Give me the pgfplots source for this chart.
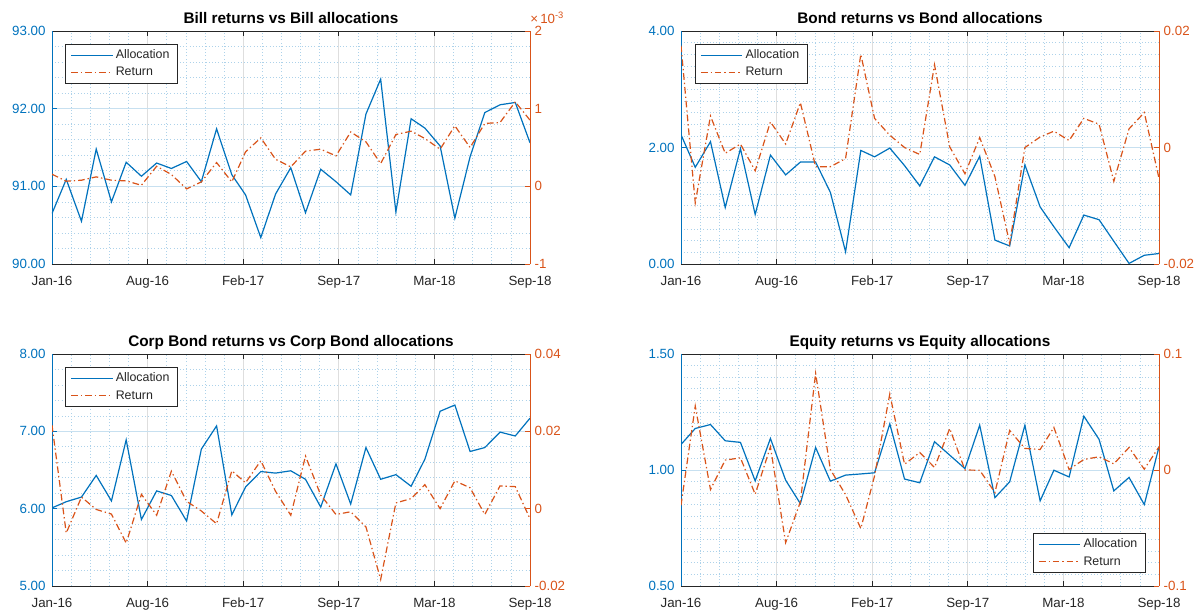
\documentclass[border=0pt]{standalone}
\usepackage{pgfplots}
\usepackage{pgfplotstable}
\pgfplotsset{compat=1.18}
\usepackage{fontspec}
\setmainfont{Liberation Sans}
\definecolor{mblue}{HTML}{0072BD}
\definecolor{morange}{HTML}{D95319}
\definecolor{mgray}{HTML}{262626}
\colorlet{gridblue}{mblue!22}
\colorlet{gridgray}{black!13}
\colorlet{minorgrid}{mblue!32}
\newcommand{\ticksize}{\fontsize{10}{12}\selectfont}
\newcommand{\legendsize}{\fontsize{9.3}{11}\selectfont}
\newcommand{\titlesize}{\fontsize{11.5}{13}\selectfont}

\pgfplotstableread{
d a r
0 90.65 0.000156
29 91.09 0.000066
60 90.55 0.000079
90 91.48 0.000122
121 90.80 0.000079
151 91.31 0.000070
182 91.13 0.000014
213 91.30 0.000259
243 91.23 0.000152
274 91.32 -0.000033
304 91.06 0.000057
335 91.74 0.000306
366 91.15 0.000057
394 90.89 0.000444
425 90.34 0.000624
455 90.90 0.000349
486 91.24 0.000250
516 90.66 0.000453
547 91.22 0.000478
578 91.06 0.000392
608 90.89 0.000700
639 91.93 0.000573
669 92.38 0.000293
700 90.67 0.000667
731 91.87 0.000710
759 91.75 0.000616
790 91.52 0.000478
820 90.59 0.000779
851 91.38 0.000500
881 91.95 0.000810
912 92.05 0.000822
943 92.08 0.001088
973 91.56 0.000852
}\billtab

\pgfplotstableread{
d a r
0 2.22 0.0175
29 1.66 -0.0095
60 2.10 0.0054
90 0.97 -0.0010
121 1.98 0.0006
151 0.85 -0.0040
182 1.87 0.0044
213 1.53 0.0006
243 1.75 0.0077
274 1.75 -0.0033
304 1.23 -0.0033
335 0.21 -0.0019
366 1.95 0.0160
394 1.84 0.0050
425 1.99 0.0021
455 1.69 0.0000
486 1.34 -0.0012
516 1.84 0.0142
547 1.70 0.0001
578 1.35 -0.0045
608 1.85 0.0017
639 0.41 -0.0050
669 0.31 -0.0165
700 1.70 0.0000
731 0.98 0.0018
759 0.64 0.0028
790 0.28 0.0012
820 0.84 0.0050
851 0.76 0.0040
881 0.39 -0.0058
912 0.01 0.0032
943 0.15 0.0060
973 0.18 -0.0053
}\bondtab

\pgfplotstableread{
d a r
0 6.01 0.0216
29 6.09 -0.0063
60 6.15 0.0030
90 6.43 -0.0002
121 6.10 -0.0014
151 6.89 -0.0089
182 5.86 0.0037
213 6.23 -0.0017
243 6.17 0.0097
274 5.84 0.0019
304 6.77 -0.0006
335 7.07 -0.0039
366 5.92 0.0098
394 6.28 0.0067
425 6.48 0.0124
455 6.46 0.0045
486 6.49 -0.0017
516 6.38 0.0136
547 6.02 0.0035
578 6.58 -0.0015
608 6.06 -0.0008
639 6.79 -0.0047
669 6.38 -0.0183
700 6.44 0.0015
731 6.29 0.0026
759 6.64 0.0062
790 7.26 0.0000
820 7.34 0.0072
851 6.74 0.0054
881 6.79 -0.0015
912 6.99 0.0059
943 6.94 0.0057
973 7.17 -0.0026
}\corptab

\pgfplotstableread{
d a r
0 1.110 -0.0304
29 1.179 0.0551
60 1.196 -0.0168
90 1.126 0.0085
121 1.119 0.0105
151 0.953 -0.0209
182 1.136 0.0200
213 0.956 -0.0626
243 0.855 -0.0275
274 1.097 0.0833
304 0.952 0.0004
335 0.978 -0.0212
366 0.983 -0.0505
394 0.988 -0.0050
425 1.199 0.0655
455 0.961 0.0050
486 0.945 0.0151
516 1.122 0.0022
547 1.064 0.0358
578 1.006 0.0000
608 1.193 -0.0002
639 0.881 -0.0194
669 0.949 0.0341
700 1.193 0.0186
731 0.867 0.0177
759 0.999 0.0367
790 0.970 0.0004
820 1.232 0.0091
851 1.132 0.0114
881 0.910 0.0053
912 0.968 0.0194
943 0.851 0.0007
973 1.100 0.0200
}\equitytab

\tikzset{
  allocline/.style={draw=mblue, line width=0.9pt},
  retline/.style={draw=morange, line width=0.9pt, dash pattern=on 5pt off 2.2pt on 1pt off 2.2pt},
}

\pgfplotsset{
  common/.style={
    scale only axis, width=358.5pt, xmin=0, xmax=973,
    tick align=inside, major tick length=3.75pt, minor tick length=0pt,
    scaled ticks=false, scaled y ticks=false,
  },
  leftax/.style={
    common,
    axis x line*=box, axis y line*=left,
    xtick={0,194.6,389.2,583.8,778.4,973},
    xticklabels={Jan-16,Aug-16,Feb-17,Sep-17,Mar-18,Sep-18},
    minor x tick num=4,
    x axis line style={mgray, line width=0.5pt},
    y axis line style={mblue, line width=0.5pt},
    x tick style={mgray, line width=0.5pt},
    y tick style={mblue, line width=0.5pt},
    xticklabel style={text=mgray, font=\ticksize, yshift=-5.7pt},
    yticklabel style={text=mblue, font=\ticksize, xshift=-1.3pt},
    grid=both,
    major x grid style={gridgray, line width=0.5pt},
    major y grid style={gridblue, line width=0.6pt},
    minor grid style={minorgrid, dotted, line width=0.5pt},
    title style={at={(0.5,1)}, anchor=base, yshift=-0.5pt, font=\bfseries\titlesize, text=black},
  },
  rightax/.style={
    common,
    axis x line=none, axis y line*=right,
    y axis line style={morange, line width=0.5pt},
    y tick style={morange, line width=0.5pt},
    yticklabel style={text=morange, font=\ticksize},
    clip mode=individual,
    legend cell align=left,
    legend image code/.code={\draw[##1] (0pt,0pt) -- (31pt,0pt);},
    legend style={draw=mgray, line width=0.5pt, fill=white, inner xsep=4pt, inner ysep=2pt,
      font=\legendsize, row sep=1pt, text=mgray},
  },
}

\begin{document}
\begin{tikzpicture}
\useasboundingbox (0,0) rectangle (901.5pt,459pt);

% ---------- Bill ----------
\begin{axis}[leftax, at={(39pt,261pt)}, anchor=south west, height=174.75pt,
  ymin=90, ymax=93, ytick={90,91,92,93}, yticklabels={90.00,91.00,92.00,93.00},
  minor y tick num=4, title={Bill returns vs Bill allocations}]
\addplot[allocline] table[x=d,y=a]{\billtab};
\end{axis}
\begin{axis}[rightax, at={(39pt,261pt)}, anchor=south west, height=174.75pt,
  ymin=-0.001, ymax=0.002, ytick={-0.001,0,0.001,0.002}, yticklabels={-1,0,1,2},
  legend style={at={(0.027,0.944)}, anchor=north west}]
\addlegendimage{mblue, draw=mblue, solid, line width=0.9pt}
\addlegendentry{Allocation}
\addplot[retline] table[x=d,y=r]{\billtab};
\addlegendentry{Return}
\node[anchor=base west, inner sep=0pt, text=morange, font=\ticksize, yshift=6pt] at (rel axis cs:1,1) {×\,10\textsuperscript{-3}};
\end{axis}

% ---------- Bond ----------
\begin{axis}[leftax, at={(510.75pt,261pt)}, anchor=south west, height=174.75pt,
  ymin=0, ymax=4, ytick={0,2,4}, yticklabels={0.00,2.00,4.00},
  minor y tick num=9, title={Bond returns vs Bond allocations}]
\addplot[allocline] table[x=d,y=a]{\bondtab};
\end{axis}
\begin{axis}[rightax, at={(510.75pt,261pt)}, anchor=south west, height=174.75pt,
  ymin=-0.02, ymax=0.02, ytick={-0.02,0,0.02}, yticklabels={-0.02,0,0.02},
  legend style={at={(0.0286,0.944)}, anchor=north west}]
\addlegendimage{mblue, draw=mblue, solid, line width=0.9pt}
\addlegendentry{Allocation}
\addplot[retline] table[x=d,y=r]{\bondtab};
\addlegendentry{Return}
\end{axis}

% ---------- Corp Bond ----------
\begin{axis}[leftax, at={(39pt,19.5pt)}, anchor=south west, height=174pt,
  ymin=5, ymax=8, ytick={5,6,7,8}, yticklabels={5.00,6.00,7.00,8.00},
  minor y tick num=4, title={Corp Bond returns vs Corp Bond allocations}]
\addplot[allocline] table[x=d,y=a]{\corptab};
\end{axis}
\begin{axis}[rightax, at={(39pt,19.5pt)}, anchor=south west, height=174pt,
  ymin=-0.02, ymax=0.04, ytick={-0.02,0,0.02,0.04}, yticklabels={-0.02,0,0.02,0.04},
  legend style={at={(0.027,0.943)}, anchor=north west}]
\addlegendimage{mblue, draw=mblue, solid, line width=0.9pt}
\addlegendentry{Allocation}
\addplot[retline] table[x=d,y=r]{\corptab};
\addlegendentry{Return}
\end{axis}

% ---------- Equity ----------
\begin{axis}[leftax, at={(510.75pt,19.5pt)}, anchor=south west, height=174pt,
  ymin=0.5, ymax=1.5, ytick={0.5,1,1.5}, yticklabels={0.50,1.00,1.50},
  minor y tick num=9, title={Equity returns vs Equity allocations}]
\addplot[allocline] table[x=d,y=a]{\equitytab};
\end{axis}
\begin{axis}[rightax, at={(510.75pt,19.5pt)}, anchor=south west, height=174pt,
  ymin=-0.1, ymax=0.1, ytick={-0.1,0,0.1}, yticklabels={-0.1,0,0.1},
  legend style={at={(0.972,0.057)}, anchor=south east}]
\addlegendimage{mblue, draw=mblue, solid, line width=0.9pt}
\addlegendentry{Allocation}
\addplot[retline] table[x=d,y=r]{\equitytab};
\addlegendentry{Return}
\end{axis}
\end{tikzpicture}
\end{document}
